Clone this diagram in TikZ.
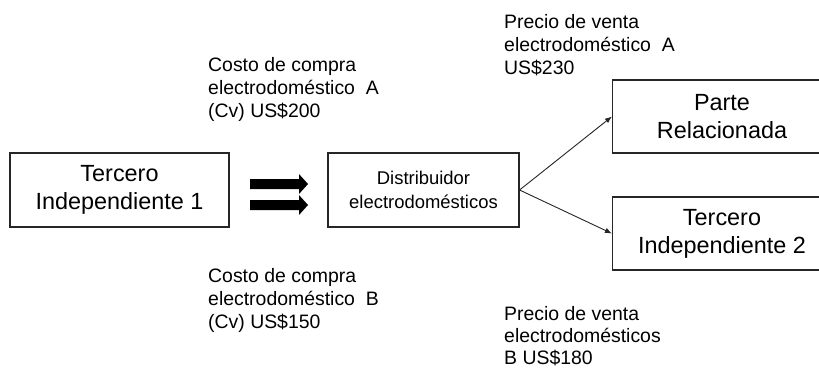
\documentclass[tikz,border=0pt]{standalone}
\usepackage{fontspec}
\setmainfont{Liberation Sans}
\usetikzlibrary{arrows.meta}
\begin{document}
\begin{tikzpicture}[x=1bp,y=-1bp,
  box/.style={draw=black!85, line width=1.1bp, minimum width=219bp, minimum height=74bp,
    inner sep=0pt, align=center, font=\fontsize{23.5}{28}\selectfont, anchor=center},
  conn/.style={-{Latex[length=7bp,width=5.5bp]}, line width=0.9bp, draw=black!85},
  lbl/.style={anchor=north west, inner sep=0pt, align=left, font=\fontsize{19.5}{23}\selectfont},
  blockarrow/.style={fill=black}
]
\useasboundingbox (0,0) rectangle (819,369);
\clip (0,0) rectangle (819,369);
\fill[white] (0,0) rectangle (819,369);

\node[box] (t1) at (119.5,190) {Tercero\\Independiente 1};
\node[box, minimum width=191bp, font=\fontsize{18.5}{24}\selectfont] (dist) at (423.5,190) {Distribuidor\\electrodomésticos};
\node[box, minimum height=73bp] (parte) at (722,116.5) {Parte\\Relacionada};
\node[box, minimum height=73bp] (t2) at (722,233.5) {Tercero\\Independiente 2};

\draw[conn] (dist.east) -- (parte.west);
\draw[conn] (dist.east) -- (t2.west);

\fill[blockarrow] (250,179) -- (299,179) -- (299,174) -- (308,184) -- (299,194) -- (299,189) -- (250,189) -- cycle;
\fill[blockarrow] (250,200) -- (299,200) -- (299,195) -- (308,205) -- (299,215) -- (299,210) -- (250,210) -- cycle;

\node[lbl] (ca) at (208,57) {Costo de compra\\electrodoméstico\ \ A\\(Cv) US\$200};
\node[lbl] (pa) at (504,14) {Precio de venta\\electrodoméstico\ \ A\\US\$230};
\node[lbl] (cb) at (208,268) {Costo de compra\\electrodoméstico\ \ B\\(Cv) US\$150};
\node[lbl, font=\fontsize{19.5}{22}\selectfont] (pb) at (504,306) {Precio de venta\\electrodomésticos\\B US\$180};
\end{tikzpicture}
\end{document}
